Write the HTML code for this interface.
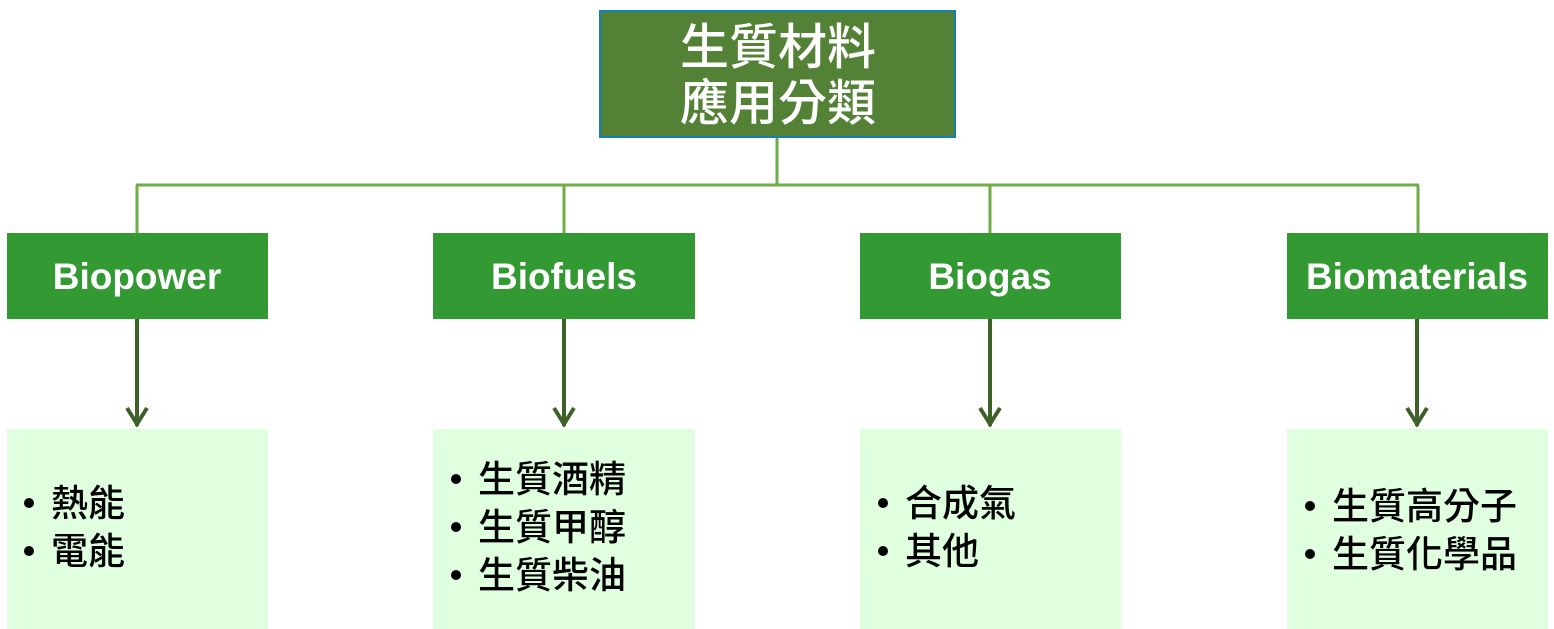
<!DOCTYPE html>
<html><head><meta charset="utf-8"><style>
html,body{margin:0;padding:0;background:#fff;width:1554px;height:629px;overflow:hidden}
svg{display:block}
.cj{font-family:"Liberation Sans","Noto Sans CJK TC",sans-serif}
</style></head><body>
<svg width="1554" height="629" viewBox="0 0 1554 629" xmlns="http://www.w3.org/2000/svg">
<defs>
<g id="arr">
<line x1="0" y1="319" x2="0" y2="426" stroke="#3d6128" stroke-width="4"/>
<polyline points="-10,408 0,424 10,408" fill="none" stroke="#3d6128" stroke-width="4"/>
</g>
</defs>
<g stroke="#70ad47" stroke-width="3" fill="none">
<line x1="777" y1="137" x2="777" y2="185"/>
<line x1="136" y1="185" x2="1419" y2="185"/>
<line x1="137" y1="185" x2="137" y2="233"/>
<line x1="564" y1="185" x2="564" y2="233"/>
<line x1="990" y1="185" x2="990" y2="233"/>
<line x1="1418" y1="185" x2="1418" y2="233"/>
</g>
<rect x="600" y="11" width="355" height="126" fill="#538135" stroke="#1080b8" stroke-width="2"/>
<g class="cj" fill="#fff" font-size="49" text-anchor="middle" font-weight="500">
<text x="778" y="64">生質材料</text>
<text x="778" y="120">應用分類</text>
</g>
<g fill="#339933">
<rect x="7" y="233" width="261" height="86"/>
<rect x="433" y="233" width="262" height="86"/>
<rect x="860" y="233" width="261" height="86"/>
<rect x="1287" y="233" width="261" height="86"/>
</g>
<g font-family="Liberation Sans,sans-serif" font-weight="bold" font-size="37" fill="#fff" text-anchor="middle">
<text x="137" y="289">Biopower</text>
<text x="564" y="289">Biofuels</text>
<text x="990" y="289">Biogas</text>
<text x="1417" y="289">Biomaterials</text>
</g>
<use href="#arr" x="137"/>
<use href="#arr" x="564"/>
<use href="#arr" x="990"/>
<use href="#arr" x="1417"/>
<g fill="#dfffdf">
<rect x="7" y="429" width="261" height="200"/>
<rect x="433" y="429" width="262" height="200"/>
<rect x="860" y="429" width="261" height="200"/>
<rect x="1287" y="429" width="261" height="200"/>
</g>
<g fill="#000">
<circle cx="29" cy="503" r="5"/><circle cx="29" cy="551" r="5"/>
<circle cx="456" cy="479" r="5"/><circle cx="456" cy="527" r="5"/><circle cx="456" cy="575" r="5"/>
<circle cx="883" cy="503" r="5"/><circle cx="883" cy="551" r="5"/>
<circle cx="1310" cy="506" r="5"/><circle cx="1310" cy="554" r="5"/>
</g>
<g class="cj" font-size="37" fill="#000" font-weight="500">
<text x="51" y="516">熱能</text>
<text x="51" y="564">電能</text>
<text x="478" y="492">生質酒精</text>
<text x="478" y="540">生質甲醇</text>
<text x="478" y="588">生質柴油</text>
<text x="905" y="516">合成氣</text>
<text x="905" y="564">其他</text>
<text x="1332" y="519">生質高分子</text>
<text x="1332" y="567">生質化學品</text>
</g>
</svg>
</body></html>
